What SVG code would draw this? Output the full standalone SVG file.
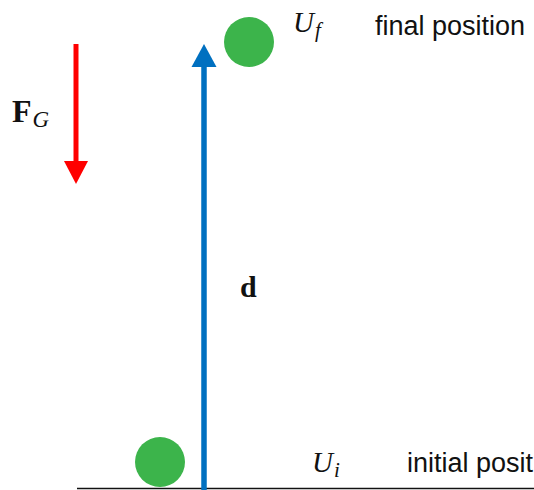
<svg xmlns="http://www.w3.org/2000/svg" width="534" height="490" viewBox="0 0 534 490">
<style>
.ball{fill:#3cb44b}
.lbl{font-family:"Liberation Sans",Arial,sans-serif;font-size:27px;fill:#111}
.math{font-family:"Liberation Serif","Times New Roman",serif;fill:#111}
</style>
<rect width="534" height="490" fill="#fff"/>
<g id="connectors">
<line id="ground" x1="77" y1="488.5" x2="534" y2="488.5" stroke="#111" stroke-width="1.5"/>
<g id="d-arrow">
<line x1="204" y1="490" x2="204" y2="64" stroke="#0070c0" stroke-width="5.5"/>
<polygon points="204,44 216.5,67 191.5,67" fill="#0070c0"/>
</g>
<g id="fg-arrow">
<line x1="76" y1="44" x2="76" y2="164" stroke="#ff0000" stroke-width="5"/>
<polygon points="76,184 64,161 88,161" fill="#ff0000"/>
</g>
</g>
<g id="ball-final"><circle class="ball" cx="249" cy="42" r="25"/></g>
<g id="ball-initial"><circle class="ball" cx="160" cy="462" r="25"/></g>
<g id="label-uf"><text class="math" x="293" y="32" font-size="29" font-style="italic">U<tspan font-size="21" dy="5" dx="1">f</tspan></text></g>
<g id="label-final"><text class="lbl" x="375" y="35">final position</text></g>
<g id="label-ui"><text class="math" x="312" y="472" font-size="29" font-style="italic">U<tspan font-size="21" dy="5" dx="1">i</tspan></text></g>
<g id="label-initial"><text class="lbl" x="407" y="472">initial position</text></g>
<g id="label-fg"><text class="math" x="12" y="122" font-size="32" font-weight="bold">F<tspan font-size="23" font-weight="normal" font-style="italic" dy="5" dx="1">G</tspan></text></g>
<g id="label-d"><text class="math" x="240" y="297" font-size="30" font-weight="bold">d</text></g>
</svg>
